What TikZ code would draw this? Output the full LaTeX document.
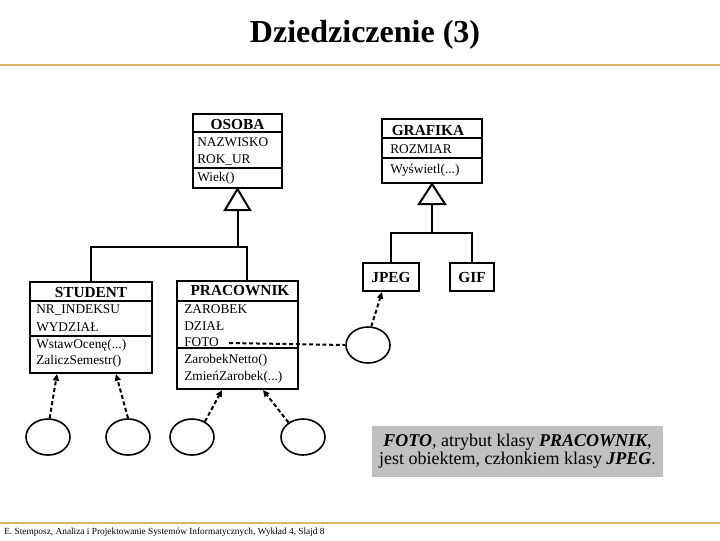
\documentclass[tikz,border=0pt]{standalone}
\usepackage{fontspec}
\setmainfont{Liberation Serif}
\usetikzlibrary{shapes.geometric,arrows.meta,calc}
\definecolor{slidegold}{RGB}{214,184,104}
\definecolor{notegray}{RGB}{192,192,192}
\tikzset{
  cls/.style 2 args={draw, line width=1.5pt, minimum width=#1*0.75pt,
    minimum height=#2*0.75pt, inner sep=0pt},
  hdr/.style={font=\fontsize{11.5}{12}\selectfont\bfseries, inner sep=0pt},
  attr/.style={font=\fontsize{10}{11}\selectfont, anchor=west, inner sep=0pt,
    text height=7pt, text depth=2pt},
  sep/.style={line width=1.2pt},
  gen/.style={line width=1.5pt},
  obj/.style={draw, ellipse, line width=1.2pt, minimum width=33pt,
    minimum height=27pt, inner sep=0pt},
  dep/.style={line width=1.5pt, dash pattern=on 3pt off 2pt,
    -{Triangle[length=5pt,width=4.5pt]}},
  assoc/.style={line width=1.5pt, dash pattern=on 3pt off 2pt},
}
\begin{document}
\begin{tikzpicture}[x=0.75pt,y=-0.75pt]
  \useasboundingbox (0,0) rectangle (720,540);
  % title and rules
  \node[font=\fontsize{24}{26}\selectfont\bfseries] (title) at (365,35) {Dziedziczenie (3)};
  \draw[slidegold, line width=2.2pt] (0,65) -- (720,65);
  \draw[slidegold, line width=1pt] (0,523) -- (720,523);
  \node[anchor=west, inner sep=0pt, font=\fontsize{7}{8}\selectfont] (footer) at (4,532)
    {E. Stemposz, Analiza i Projektowanie Systemów Informatycznych, Wykład 4, Slajd 8};

  % classes
  \node[cls={89}{74}] (osoba) at (237.5,151) {};
  \draw[sep] ($(osoba.north west)+(0,19)$) -- ($(osoba.north east)+(0,19)$);
  \draw[sep] ($(osoba.north west)+(0,55)$) -- ($(osoba.north east)+(0,55)$);
  \node[hdr] (osobahdr) at (237.5,124) {OSOBA};
  \node[attr] (osobanazwisko) at (197,143) {NAZWISKO};
  \node[attr] (osobarok) at (197,160) {ROK\_UR};
  \node[attr] (osobawiek) at (197,178) {Wiek()};

  \node[cls={100}{64}] (grafika) at (432,151) {};
  \draw[sep] ($(grafika.north west)+(0,20)$) -- ($(grafika.north east)+(0,20)$);
  \draw[sep] ($(grafika.north west)+(0,40)$) -- ($(grafika.north east)+(0,40)$);
  \node[hdr] (grafikahdr) at (428,130) {GRAFIKA};
  \node[attr] (grafikarozmiar) at (390,150) {ROZMIAR};
  \node[attr] (grafikawyswietl) at (390,170) {Wyświetl(...)};

  \node[cls={122}{91}] (student) at (91,327.5) {};
  \draw[sep] ($(student.north west)+(0,20)$) -- ($(student.north east)+(0,20)$);
  \draw[sep] ($(student.north west)+(0,55)$) -- ($(student.north east)+(0,55)$);
  \node[hdr] (studenthdr) at (91,292) {STUDENT};
  \node[attr] (studentnr) at (36,310) {NR\_INDEKSU};
  \node[attr] (studentwydzial) at (36,328) {WYDZIAŁ};
  \node[attr] (studentwstaw) at (36,345) {WstawOcenę(...)};
  \node[attr] (studentzalicz) at (36,361) {ZaliczSemestr()};

  \node[cls={121}{108}] (pracownik) at (237.5,335) {};
  \draw[sep] ($(pracownik.north west)+(0,21)$) -- ($(pracownik.north east)+(0,21)$);
  \draw[sep] ($(pracownik.north west)+(0,68)$) -- ($(pracownik.north east)+(0,68)$);
  \node[hdr] (pracownikhdr) at (240,291) {PRACOWNIK};
  \node[attr] (praczarobek) at (184,310) {ZAROBEK};
  \node[attr] (pracdzial) at (184,327) {DZIAŁ};
  \node[attr] (pracfoto) at (184,343) {FOTO};
  \node[attr] (pracnetto) at (184,360) {ZarobekNetto()};
  \node[attr] (praczmien) at (184,377) {ZmieńZarobek(...)};

  \node[cls={56}{28}, hdr] (jpeg) at (391,277) {JPEG};
  \node[cls={44}{28}, hdr] (gif) at (472,277) {GIF};

  % generalisation
  \draw[gen, fill=white] (osoba.south) -- ++(12.5,21) -- ++(-25,0) -- cycle;
  \coordinate (osobabase) at ($(osoba.south)+(0,21)$);
  \coordinate (osobajoin) at (247,247);
  \draw[gen] (osobabase) -- (osobabase |- osobajoin);
  \draw[gen] (student.north) |- (osobajoin) -- (osobajoin |- pracownik.north);

  \draw[gen, fill=white] (grafika.south) -- ++(13,20) -- ++(-26,0) -- cycle;
  \coordinate (grafikabase) at ($(grafika.south)+(0,20)$);
  \draw[gen] (grafikabase) -- ++(0,29) coordinate (grafikajoin);
  \draw[gen] (jpeg.north) |- (grafikajoin) -| (gif.north);

  % objects
  \node[obj] (o1) at (48,437) {};
  \node[obj] (o2) at (128,437) {};
  \node[obj] (o3) at (192,437) {};
  \node[obj] (o4) at (303,437) {};
  \node[obj] (o5) at (368,345) {};

  \draw[dep] (o1.85) -- ($(student.south west)+(28,0)$);
  \draw[dep] (o2.north) -- ($(student.south west)+(87,0)$);
  \draw[dep] (o3.50) -- ($(pracownik.south west)+(46,0)$);
  \draw[dep] (o4.135) -- ($(pracownik.south west)+(87,0)$);
  \draw[dep] (o5.80) -- ($(jpeg.south west)+(20,0)$);
  \draw[assoc] ($(pracfoto.east)+(10,0)$) -- (o5.west);

  % note
  \node[fill=notegray, minimum width=218pt, minimum height=38pt, inner sep=0pt,
    align=center, font=\fontsize{13.5}{13.5}\selectfont] (fotonote) at (517.5,451.5)
    {{\bfseries\itshape FOTO}, atrybut klasy {\bfseries\itshape PRACOWNIK},\\
     jest obiektem, członkiem klasy {\bfseries\itshape JPEG}.};
\end{tikzpicture}
\end{document}
